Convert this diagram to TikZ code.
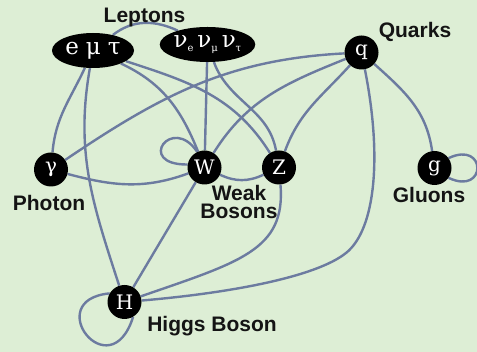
\documentclass[tikz,border=0pt]{standalone}
\usepackage{fontspec}
\setmainfont{DejaVu Serif}
\newfontfamily\labelfont{Liberation Sans}
\usetikzlibrary{shapes.geometric}
\definecolor{bgc}{RGB}{221,238,213}
\definecolor{edgec}{RGB}{108,123,160}
\pgfdeclarelayer{bglayer}
\pgfsetlayers{bglayer,main}
\tikzset{
  particle/.style={circle, fill=black, text=white, minimum size=34pt, inner sep=0pt,
    font=\fontsize{20}{20}\selectfont},
  lepton/.style={ellipse, fill=black, text=white, inner sep=0pt,
    minimum height=35pt, font=\fontsize{23}{23}\selectfont},
  lbl/.style={font=\labelfont\bfseries\fontsize{21}{18}\selectfont, text=black!92, align=center, inner sep=0pt},
  conn/.style={draw=edgec, line width=2.4pt}
}
\newcommand{\subs}[1]{\raisebox{-3.5pt}{\fontsize{10}{10}\selectfont #1}}
\begin{document}
\begin{tikzpicture}[x=1pt,y=-1pt]
\begin{pgfonlayer}{bglayer}
\fill[bgc] (0,0) rectangle (477,352);
\end{pgfonlayer}
\useasboundingbox (0,0) rectangle (477,352);

\node[lepton, minimum width=82pt] (L1) at (93,50.5) {e\hspace{0.3em}μ\hspace{0.3em}τ};
\node[lepton, minimum width=91pt] (L2) at (207.5,44.5) {ν\subs{e}\,ν\subs{μ}\,ν\subs{τ}};
\node[particle] (q) at (361.5,52.5) {q};
\node[particle] (gam) at (51,169.5) {γ};
\node[particle] (W) at (204.5,167.5) {W};
\node[particle] (Z) at (279,167.5) {Z};
\node[particle] (g) at (434.5,168) {g};
\node[particle] (H) at (124.5,302) {H};

\node[lbl] (tL) at (144.5,17) {Leptons};
\node[lbl] (tQ) at (415,32) {Quarks};
\node[lbl] (tP) at (49,203) {Photon};
\node[lbl] (tW1) at (239,193) {Weak};
\node[lbl] (tW2) at (239,211) {Bosons};
\node[lbl] (tG) at (429,195) {Gluons};
\node[lbl] (tH) at (212,326) {Higgs Boson};

\begin{pgfonlayer}{bglayer}
\draw[conn] (L1) to[out=38,in=155] (L2);
\draw[conn] (L1) to[out=-115,in=85] (gam);
\draw[conn] (L1) to[out=-100,in=108] (H);
\draw[conn] (L1) to[out=-25,in=112] (W);
\draw[conn] (L1) to[out=-18,in=122] (Z);
\draw[conn] (L2) -- (W);
\draw[conn] (L2) to[out=-70,in=100] (Z);
\draw[conn] (q) to[out=183,in=34] (gam);
\draw[conn] (q) to[out=202,in=58] (W);
\draw[conn] (q) to[out=228,in=70] (Z);
\draw[conn] (q) .. controls (382,155) and (376,229) .. (346,253)
               .. controls (316,277) and (230,293) .. (H);
\draw[conn] (q) to[out=-42,in=98] (g);
\draw[conn] (g.35) .. controls (487,140) and (487,196) .. (g.-35);
\draw[conn] (gam) to[out=-15,in=200] (W);
\draw[conn] (W.115) .. controls (172,114) and (135,165) .. (W.170);
\draw[conn] (W) to[out=-25,in=205] (Z);
\draw[conn] (W) -- (H);
\draw[conn] (Z) .. controls (286,250) and (240,262) .. (H);
\draw[conn] (H.150) .. controls (40,300) and (110,390) .. (H.-60);
\end{pgfonlayer}
\end{tikzpicture}
\end{document}
